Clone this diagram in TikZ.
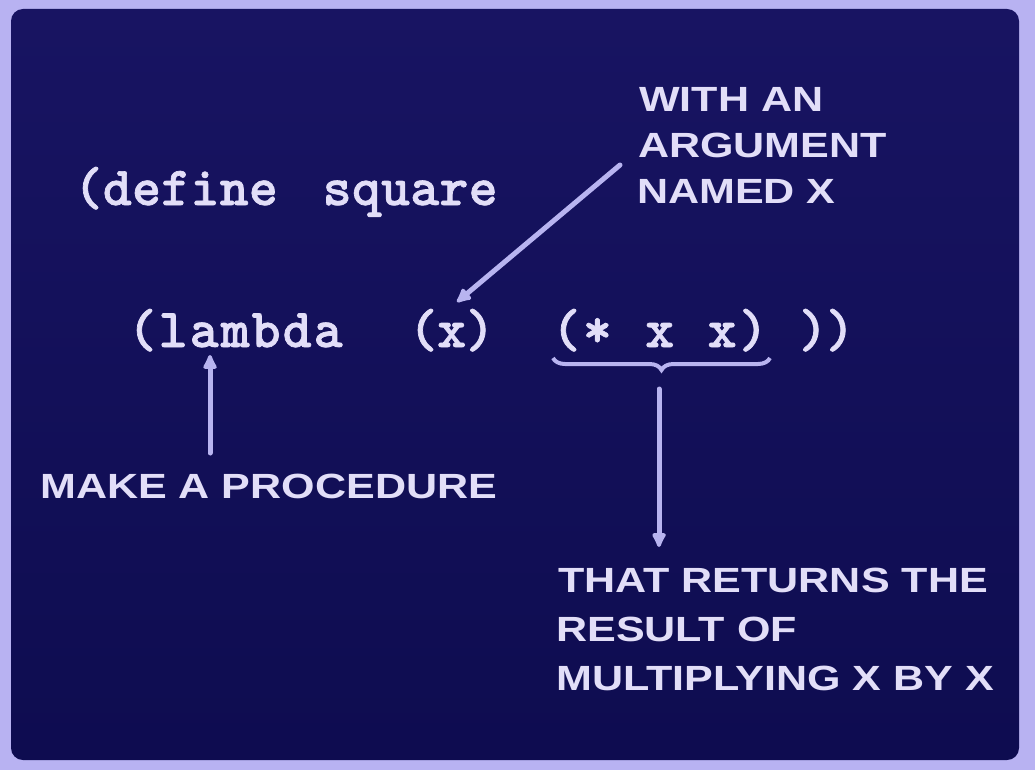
\documentclass[tikz,border=0pt]{standalone}
\usepackage{fontspec}
\usetikzlibrary{arrows.meta,decorations.pathreplacing}
\newfontfamily\codefont{lmmonolt10-bold.otf}[FakeBold=1.3]
\newfontfamily\labelfont{Liberation Sans}[FakeStretch=1.23]
\definecolor{bgtop}{RGB}{24,20,98}
\definecolor{bgbot}{RGB}{14,12,80}
\definecolor{framecol}{RGB}{184,178,242}
\definecolor{inkcol}{RGB}{226,222,248}
\definecolor{linecol}{RGB}{184,180,240}
\def\monoloop#1{\ifx\relax#1\else\makebox[\monow][c]{#1}\expandafter\monoloop\fi}
\newcommand\mono[2]{\def\monow{#1pt}\monoloop#2\relax}
\begin{document}
\begin{tikzpicture}[x=1pt,y=-1pt,
  code/.style={font={\codefont\fontsize{55}{60}\selectfont}, text=inkcol, inner sep=0pt, anchor=base west},
  lbl/.style={font={\labelfont\bfseries\fontsize{35}{40}\selectfont}, text=inkcol, inner sep=0pt, anchor=base west},
  conn/.style={draw=linecol, line width=5pt, line cap=round},
  arr/.style={conn, -{Latex[length=18pt,width=17pt,round]}}]
\useasboundingbox (0,0) rectangle (1035,770);
\fill[framecol] (0,0) rectangle (1035,770);
\shade[top color=bgtop, bottom color=bgbot, rounded corners=12pt] (11,9) rectangle (1019,760);

% code
\node[code] (def) at (73.4,205) {\mono{29.2}{(define}};
\node[code] (sq) at (322.4,205) {\mono{29.2}{square}};
\node[code] (lam) at (126.5,347) {\mono{31}{(lambda}};
\node[code] (arg) at (408.7,347) {\mono{28.5}{(x)}};
\node[code] (mul) at (550.4,347) {\mono{31.2}{(*~x~x)}};
\node[code] (cls) at (799.5,347) {\mono{27}{))}};

% labels
\node[lbl] (w1) at (639,112) {WITH AN};
\node[lbl] (w2) at (638,158) {ARGUMENT};
\node[lbl] (w3) at (637,203) {NAMED X};
\node[lbl] (mk) at (40,498) {MAKE A PROCEDURE};
\node[lbl] (r1) at (558,592) {THAT RETURNS THE};
\node[lbl] (r2) at (556,641) {RESULT OF};
\node[lbl] (r3) at (556,690) {MULTIPLYING X BY X};

% connectors
\coordinate (argtail) at (620,165);
\coordinate (arghead) at (457,302);
\draw[arr] (argtail) -- (arghead);

\coordinate (mktail) at (210,453);
\coordinate (mkhead) at (210,355);
\draw[arr] (mktail) -- (mkhead);

\coordinate (brL) at (553,358);
\coordinate (brR) at (770,358);
\draw[draw=linecol, line width=4pt, decorate, decoration={brace, mirror, amplitude=12pt}] (brL) -- (brR);

\coordinate (restail) at (659,389);
\coordinate (reshead) at (659,547);
\draw[arr] (restail) -- (reshead);
\end{tikzpicture}
\end{document}
